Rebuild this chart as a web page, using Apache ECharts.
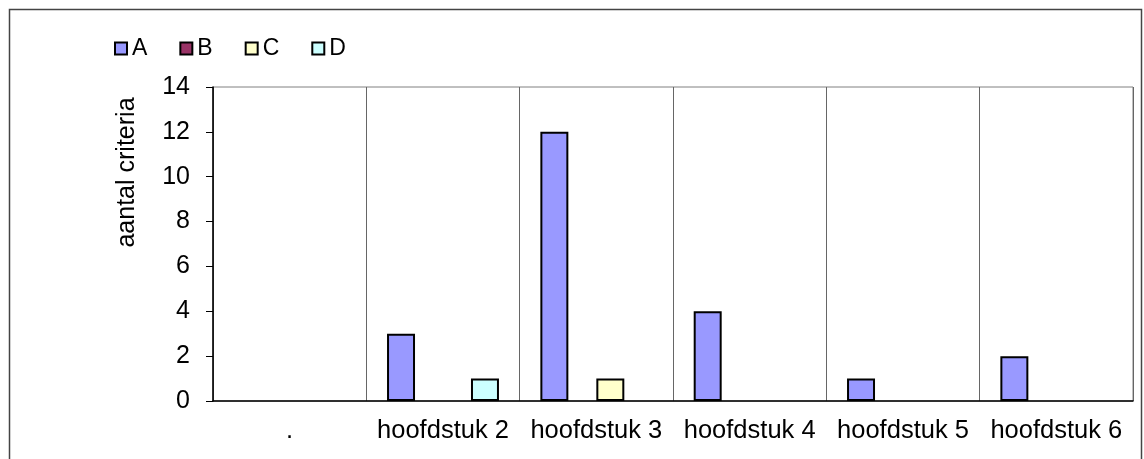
<!DOCTYPE html>
<html>
<head>
<meta charset="utf-8">
<script src="https://cdn.jsdelivr.net/npm/echarts@6/dist/echarts.min.js"></script>
<style>
html,body{margin:0;padding:0;background:#fff;}
#chart{width:1144px;height:459px;}
</style>
</head>
<body>
<div id="chart"></div>
<script>
var categories = ['.', 'hoofdstuk 2', 'hoofdstuk 3', 'hoofdstuk 4', 'hoofdstuk 5', 'hoofdstuk 6'];
var seriesNames = ['A', 'B', 'C', 'D'];
var valuesA = [null, 3, 12, 4, 1, 2];
var valuesB = [null, null, null, null, null, null];
var valuesC = [null, null, 1, null, null, null];
var valuesD = [null, 1, null, null, null, null];
var yTicks = [0, 2, 4, 6, 8, 10, 12, 14];
var colors = ['#9999FF', '#993366', '#FFFFCC', '#CCFFFF'];

var font = "'Liberation Sans', Arial, sans-serif";
var allValues = [valuesA, valuesB, valuesC, valuesD];

var series = [];
for(var i = 0; i < seriesNames.length; i++){
	series.push({
		name: seriesNames[i],
		type: 'bar',
		data: allValues[i],
		barGap: '0%',
		barCategoryGap: '27%',
		itemStyle: {color: colors[i], borderColor: '#000', borderWidth: 2}
	});
}

var chart = echarts.init(document.getElementById('chart'));
chart.setOption({
	animation: false,
	color: colors,
	grid: {left: 213, right: 11, top: 87, bottom: 58, show: true, borderColor: '#808080', borderWidth: 1},
	legend: {
		data: seriesNames,
		left: 109, top: 32,
		itemWidth: 12, itemHeight: 12, itemGap: 32,
		icon: 'rect',
		itemStyle: {borderColor: '#000', borderWidth: 2},
		textStyle: {fontFamily: font, fontSize: 23, color: '#000'}
	},
	graphic: [
		{type: 'rect', shape: {x: 9.5, y: 9.5, width: 1132, height: 470}, style: {fill: null, stroke: '#444', lineWidth: 1.5}, silent: true},
		{type: 'text', x: 127, y: 172.5, rotation: Math.PI / 2,
			style: {text: 'aantal criteria', font: '25px ' + font, fill: '#000', textAlign: 'center', textVerticalAlign: 'middle'}}
	],
	xAxis: {
		type: 'category',
		data: categories,
		axisLine: {lineStyle: {color: '#000', width: 1.5}},
		axisTick: {length: 8, lineStyle: {color: '#000'}},
		splitLine: {show: true, interval: 0, lineStyle: {color: '#666', width: 1}},
		axisLabel: {interval: 0, margin: 17, fontFamily: font, fontSize: 25.5, color: '#000'}
	},
	yAxis: {
		type: 'value',
		min: yTicks[0], max: yTicks[yTicks.length - 1], interval: 2,
		axisLine: {show: true, lineStyle: {color: '#000', width: 1.5}},
		axisTick: {show: true, length: 7, lineStyle: {color: '#000'}},
		splitLine: {show: false},
		axisLabel: {margin: 23, fontFamily: font, fontSize: 25, color: '#000'}
	},
	series: series
});
</script>
</body>
</html>
